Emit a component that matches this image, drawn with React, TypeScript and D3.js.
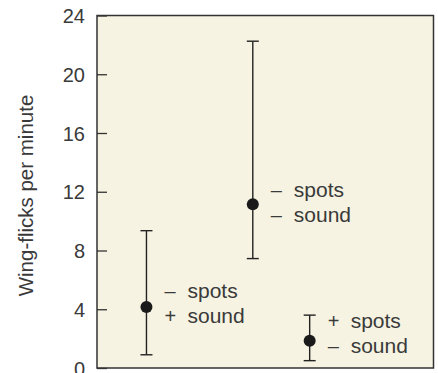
import { useEffect, useRef } from "react";
import * as d3 from "d3";

// treatment groups, left to right
const groups = ["-spots+sound", "-spots-sound", "+spots-sound"];
const spotsSign = ["\u2013", "\u2013", "+"];
const soundSign = ["+", "\u2013", "\u2013"];
// horizontal placement of each group (fraction of the plot width)
const groupPos = [0.147, 0.463, 0.632];
// wing-flicks per minute
const means = [4.15, 11.15, 1.85];
const upper = [9.35, 22.25, 3.6];
const lower = [0.9, 7.45, 0.5];
const yTicks = [0, 4, 8, 12, 16, 20, 24];
const labelDy = [-9, -7, -13];

const App = () => {
    const svgRef = useRef<SVGSVGElement>(null);

    useEffect(() => {
        const svg = d3.select(svgRef.current);
        svg.selectAll("*").remove();

        const margin = { top: 15.5, right: 4.5, bottom: 5, left: 97 };
        const W = 438;
        const H = 373;
        const width = W - margin.left - margin.right;
        const height = H - margin.top - margin.bottom;
        const font = "'Liberation Sans', Arial, sans-serif";
        const ink = "#3a3a3a";

        const x = d3.scaleLinear().domain([0, 1]).range([0, width]);
        const y = d3.scaleLinear().domain([0, 24]).range([height, 0]);

        const g = svg.append("g").attr("transform", `translate(${margin.left},${margin.top})`);

        g.append("rect")
            .attr("width", width)
            .attr("height", height)
            .attr("fill", "#f6f3e2")
            .attr("stroke", "#333")
            .attr("stroke-width", 1.5);

        // ticks point into the plot
        const yAxis = g.append("g").call(d3.axisRight(y).tickValues(yTicks).tickSize(10));
        yAxis.select(".domain").remove();
        yAxis.selectAll(".tick line").attr("stroke", "#333").attr("stroke-width", 1.3);
        yAxis
            .selectAll(".tick text")
            .attr("text-anchor", "end")
            .attr("x", -12)
            .attr("dy", "0.36em")
            .attr("fill", ink)
            .style("font-family", font)
            .style("font-size", "20px");

        svg.append("text")
            .attr("transform", `translate(33,${margin.top + 180}) rotate(-90)`)
            .attr("text-anchor", "middle")
            .attr("fill", ink)
            .style("font-family", font)
            .style("font-size", "20.5px")
            .text("Wing-flicks per minute");

        const cap = 6;
        const pts = g.selectAll(".grp").data(groups).enter().append("g").attr("class", "grp");

        pts.append("line")
            .attr("x1", (d, i) => x(groupPos[i]))
            .attr("x2", (d, i) => x(groupPos[i]))
            .attr("y1", (d, i) => y(lower[i]))
            .attr("y2", (d, i) => y(upper[i]))
            .attr("stroke", "#222")
            .attr("stroke-width", 1.4);
        [upper, lower].forEach((arr) => {
            pts.append("line")
                .attr("x1", (d, i) => x(groupPos[i]) - cap)
                .attr("x2", (d, i) => x(groupPos[i]) + cap)
                .attr("y1", (d, i) => y(arr[i]))
                .attr("y2", (d, i) => y(arr[i]))
                .attr("stroke", "#222")
                .attr("stroke-width", 1.4);
        });
        pts.append("circle")
            .attr("cx", (d, i) => x(groupPos[i]))
            .attr("cy", (d, i) => y(means[i]))
            .attr("r", 6)
            .attr("fill", "#1a1a1a");

        const rows = [
            { signs: spotsSign, word: "spots", dy: 0 },
            { signs: soundSign, word: "sound", dy: 25 },
        ];
        rows.forEach((row) => {
            pts.append("text")
                .attr("x", (d, i) => x(groupPos[i]) + 18)
                .attr("y", (d, i) => y(means[i]) + labelDy[i] + row.dy)
                .attr("fill", ink)
                .style("font-family", font)
                .style("font-size", "20px")
                .text((d, i) => row.signs[i]);
            pts.append("text")
                .attr("x", (d, i) => x(groupPos[i]) + 41)
                .attr("y", (d, i) => y(means[i]) + labelDy[i] + row.dy)
                .attr("fill", ink)
                .style("font-family", font)
                .style("font-size", "21px")
                .text(row.word);
        });
    }, []);

    return (
        <svg
            ref={svgRef}
            width={438}
            height={373}
            style={{ position: "absolute", left: 0, top: 0, background: "#fff" }}
        ></svg>
    );
};

export default App;
